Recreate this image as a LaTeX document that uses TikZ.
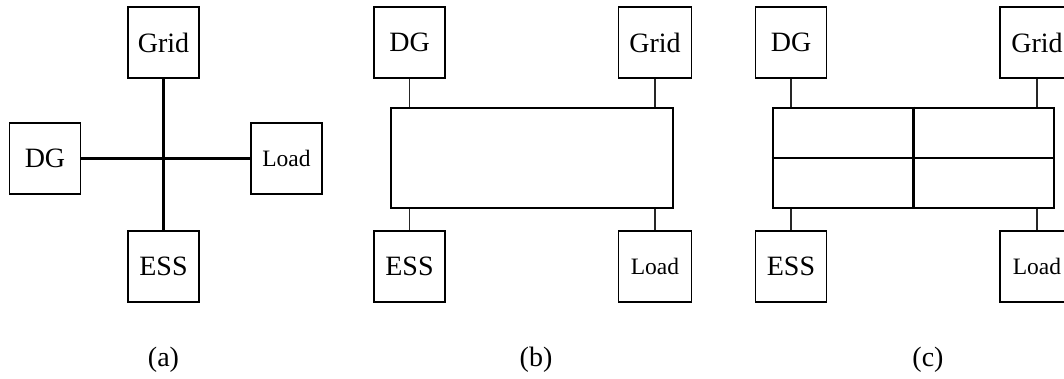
\documentclass[tikz,border=0pt]{standalone}
\usepackage{fontspec}
\setmainfont{Liberation Serif}
\begin{document}
\begin{tikzpicture}[x=1pt,y=-1pt,
  unit/.style={draw, line width=1.8pt, minimum width=71pt, minimum height=71pt, inner sep=0pt, font=\fontsize{28}{31}\selectfont},
  unitsm/.style={unit, font=\fontsize{23.5}{26}\selectfont},
  bus/.style={draw, line width=2.8pt, inner sep=0pt},
  thick line/.style={line width=2.8pt},
  thin line/.style={line width=1.2pt, black!85},
  caption text/.style={font=\fontsize{28}{31}\selectfont}]
\useasboundingbox (0,0) rectangle (1064,378);
\clip (0,0) rectangle (1064,378);
% (a)
\node[unit] (ag) at (163.5,42.5) {Grid};
\node[unit] (ad) at (45,158.5) {DG};
\node[unitsm] (al) at (286.5,158.5) {Load};
\node[unit] (ae) at (163.5,266.5) {ESS};
\draw[thick line] (ag.south) -- (ae.north);
\draw[thick line] (ad.east) -- (al.west);
\node[caption text] (la) at (163.5,360) {(a)};
% (b)
\node[unit] (bd) at (409.5,42.5) {DG};
\node[unit, minimum width=73pt] (bg) at (655,42.5) {Grid};
\node[unit] (be) at (409.5,266.5) {ESS};
\node[unitsm, minimum width=73pt] (bl) at (655,266.5) {Load};
\node[bus, minimum width=282pt, minimum height=100pt] (bb) at (532,158) {};
\draw[thin line] (bd.south) -- (bd.south |- bb.north);
\draw[thin line] (bg.south) -- (bg.south |- bb.north);
\draw[thin line] (be.north) -- (be.north |- bb.south);
\draw[thin line] (bl.north) -- (bl.north |- bb.south);
\node[caption text] (lb) at (536,360) {(b)};
% (c)
\node[unit] (cd) at (791,42.5) {DG};
\node[unit, minimum width=74pt] (cg) at (1037,42.5) {Grid};
\node[unit] (ce) at (791,266.5) {ESS};
\node[unitsm, minimum width=74pt] (cl) at (1037,266.5) {Load};
\node[bus, minimum width=281pt, minimum height=100pt] (cb) at (913.5,158) {};
\draw[thick line] (cb.north) -- (cb.south);
\draw[thick line] (cb.west) -- (cb.east);
\draw[thin line] (cd.south) -- (cd.south |- cb.north);
\draw[thin line] (cg.south) -- (cg.south |- cb.north);
\draw[thin line] (ce.north) -- (ce.north |- cb.south);
\draw[thin line] (cl.north) -- (cl.north |- cb.south);
\node[caption text] (lc) at (928,360) {(c)};
\end{tikzpicture}
\end{document}
